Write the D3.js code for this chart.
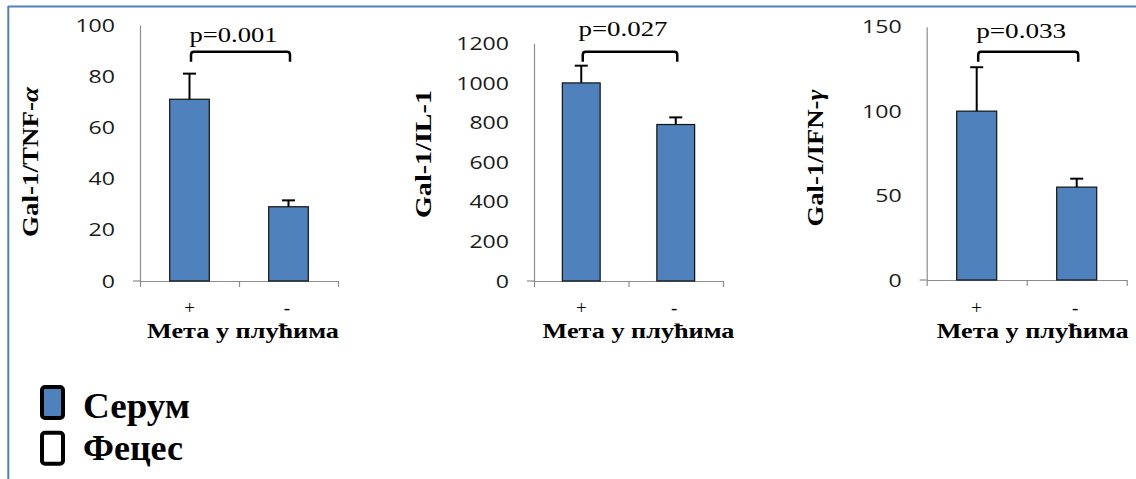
<!DOCTYPE html>
<html>
<head>
<meta charset="utf-8">
<script src="https://cdn.jsdelivr.net/npm/d3@7"></script>
<style>
  html, body { margin: 0; padding: 0; background: #fff; }
  svg { display: block; }
</style>
</head>
<body>
<svg id="chart" width="1136" height="479"></svg>
<script>
// ---- data ----
const categories = ["+", "-"];
const yAxisNames = ["Gal-1/TNF-", "Gal-1/IL-1", "Gal-1/IFN-"];
const yAxisGreek = ["α", "", "γ"];
const serumValues = [[71, 29], [1000, 790], [100, 55]];
const serumErrors = [[10, 2.5], [87, 36], [26, 5]];
const yDomains = [[0, 100], [0, 1200], [0, 150]];
const yTicks = [
  [0, 20, 40, 60, 80, 100],
  [0, 200, 400, 600, 800, 1000, 1200],
  [0, 50, 100, 150]
];
const pLabels = ["p=0.001", "p=0.027", "p=0.033"];
const xTitle = "Мета у плућима";
const legendLabels = ["Серум", "Фецес"];

// ---- layout of the three panels ----
const panels = [
  { x0: 140,   x1: 338,    yTop: 25,   yBase: 281, labelX: 38,  labelY: 162, labelLen: 150, pY: 42, pLen: 88, titleDx: 4 },
  { x0: 534,   x1: 723,    yTop: 43.3, yBase: 281, labelX: 431, labelY: 154, labelLen: 128, pY: 36, pLen: 89, titleDx: 10 },
  { x0: 926.7, x1: 1126.7, yTop: 26.7, yBase: 280, labelX: 823, labelY: 158, labelLen: 137, pY: 38, pLen: 90, titleDx: 6 }
];

const BAR_FILL = "#4f81bd";
const AXIS_GRAY = "#8c8c8c";
const SERIF = "'Liberation Serif', 'Times New Roman', serif";
const SANS = "'Open Sans', Lato, sans-serif";

const svg = d3.select("#chart");

// frame lines (top and left)
svg.append("line").attr("x1", 8).attr("x2", 1136).attr("y1", 6.5).attr("y2", 6.5)
  .attr("stroke", BAR_FILL).attr("stroke-width", 2);
svg.append("line").attr("x1", 8.3).attr("x2", 8.3).attr("y1", 6).attr("y2", 479)
  .attr("stroke", BAR_FILL).attr("stroke-width", 2);

panels.forEach((p, i) => {
  const g = svg.append("g");

  const x = d3.scaleBand()
    .domain(categories)
    .range([p.x0, p.x1])
    .paddingInner(0.6)
    .paddingOuter(0.3);

  const y = d3.scaleLinear()
    .domain(yDomains[i])
    .range([p.yBase, p.yTop]);

  // value axis
  const yAxis = g.append("g")
    .attr("transform", `translate(${p.x0},0)`)
    .call(d3.axisLeft(y).tickValues(yTicks[i]).tickFormat(d3.format("d"))
      .tickSize(0).tickPadding(25));
  yAxis.select(".domain").attr("stroke", AXIS_GRAY).attr("stroke-width", 1.2);
  yAxis.selectAll(".tick text")
    .attr("font-family", SANS)
    .attr("font-size", 19)
    .attr("fill", "#1a1a1a")
    .attr("textLength", d => String(d).length * 13.2)
    .attr("lengthAdjust", "spacingAndGlyphs");

  // category axis with ticks between categories
  const edge = d3.scaleLinear().domain([0, categories.length]).range([p.x0, p.x1]);
  const xAxis = g.append("g")
    .attr("transform", `translate(0,${p.yBase})`)
    .call(d3.axisBottom(edge).tickValues(d3.range(categories.length + 1))
      .tickFormat("").tickSizeInner(6).tickSizeOuter(0));
  xAxis.select(".domain").attr("stroke", AXIS_GRAY).attr("stroke-width", 1.2);
  xAxis.selectAll(".tick line").attr("stroke", AXIS_GRAY).attr("stroke-width", 1.2);
  g.append("line")
    .attr("x1", p.x0 - 7).attr("x2", p.x0)
    .attr("y1", p.yBase).attr("y2", p.yBase)
    .attr("stroke", AXIS_GRAY).attr("stroke-width", 1.2);

  // bars
  g.selectAll("rect.bar")
    .data(serumValues[i])
    .join("rect")
    .attr("class", "bar")
    .attr("x", (d, j) => x(categories[j]))
    .attr("width", x.bandwidth())
    .attr("y", d => y(d))
    .attr("height", d => y(0) - y(d))
    .attr("fill", BAR_FILL)
    .attr("stroke", "#111")
    .attr("stroke-width", 1.2);

  // upper error bars
  const cx = j => x(categories[j]) + x.bandwidth() / 2;
  serumValues[i].forEach((v, j) => {
    const top = y(v + serumErrors[i][j]);
    g.append("line")
      .attr("x1", cx(j)).attr("x2", cx(j))
      .attr("y1", y(v)).attr("y2", top)
      .attr("stroke", "#000").attr("stroke-width", 2);
    g.append("line")
      .attr("x1", cx(j) - 6.5).attr("x2", cx(j) + 6.5)
      .attr("y1", top).attr("y2", top)
      .attr("stroke", "#000").attr("stroke-width", 2);
  });

  // significance bracket
  const bl = cx(0) + 1.5, br = cx(1) + 1.5;
  const bTop = 51.7, bBot = 61.7, r = 3;
  g.append("path")
    .attr("d", `M${bl},${bBot} L${bl},${bTop + r} Q${bl},${bTop} ${bl + r},${bTop} ` +
               `L${br - r},${bTop} Q${br},${bTop} ${br},${bTop + r} L${br},${bBot}`)
    .attr("fill", "none")
    .attr("stroke", "#000")
    .attr("stroke-width", 2.5);
  g.append("text")
    .attr("x", (bl + br) / 2 - 7)
    .attr("y", p.pY)
    .attr("text-anchor", "middle")
    .attr("font-family", SERIF)
    .attr("font-size", 21)
    .attr("textLength", p.pLen)
    .attr("lengthAdjust", "spacingAndGlyphs")
    .text(pLabels[i]);

  // category labels
  g.selectAll("text.cat")
    .data(categories)
    .join("text")
    .attr("class", "cat")
    .attr("x", (d, j) => cx(j) - (j === 1 ? 1.5 : 0))
    .attr("y", 313.5)
    .attr("text-anchor", "middle")
    .attr("font-family", SERIF)
    .attr("font-size", 19)
    .text(d => d);

  // axis title
  g.append("text")
    .attr("x", (p.x0 + p.x1) / 2 + p.titleDx)
    .attr("y", 337.5)
    .attr("text-anchor", "middle")
    .attr("font-family", SERIF)
    .attr("font-weight", "bold")
    .attr("font-size", 22)
    .attr("textLength", 192)
    .attr("lengthAdjust", "spacingAndGlyphs")
    .text(xTitle);

  // value axis name (rotated)
  const lab = g.append("text")
    .attr("transform", `translate(${p.labelX},${p.labelY}) rotate(-90)`)
    .attr("text-anchor", "middle")
    .attr("font-family", SERIF)
    .attr("font-weight", "bold")
    .attr("font-size", 23)
    .attr("textLength", p.labelLen)
    .attr("lengthAdjust", "spacingAndGlyphs");
  lab.append("tspan").text(yAxisNames[i]);
  if (yAxisGreek[i]) lab.append("tspan").attr("font-style", "italic").text(yAxisGreek[i]);
});

// legend
const legendFills = [BAR_FILL, "#fff"];
const legendY = [387, 432.7];
const legendBaseline = [418, 460];
const legend = svg.append("g");
legendLabels.forEach((name, k) => {
  legend.append("rect")
    .attr("x", 42).attr("y", legendY[k])
    .attr("width", 21).attr("height", 31)
    .attr("rx", 3)
    .attr("fill", legendFills[k])
    .attr("stroke", "#000")
    .attr("stroke-width", 4);
  legend.append("text")
    .attr("x", 83).attr("y", legendBaseline[k])
    .attr("font-family", SERIF)
    .attr("font-weight", "bold")
    .attr("font-size", 36)
    .attr("textLength", k === 0 ? 107 : 100)
    .attr("lengthAdjust", "spacingAndGlyphs")
    .text(name);
});
</script>
</body>
</html>
